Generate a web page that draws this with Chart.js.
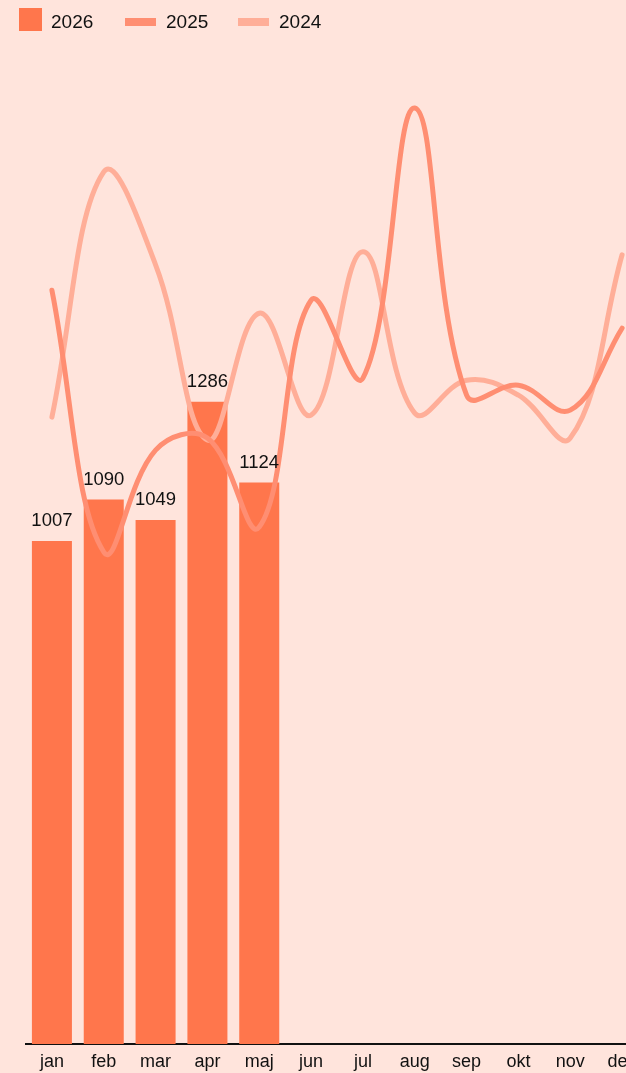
<!DOCTYPE html>
<html>
<head>
<meta charset="utf-8">
<script src="https://cdn.jsdelivr.net/npm/chart.js@4.4.1/dist/chart.umd.min.js"></script>
<style>
  html, body { margin: 0; padding: 0; background: #ffe4dc; overflow: hidden; }
  body { width: 626px; height: 1073px; position: relative; font-family: "Liberation Sans", Arial, sans-serif; }
  .legend { position: absolute; top: 0; left: 0; height: 40px; z-index: 2; }
  .legend span { position: absolute; font-size: 19px; color: #111; top: 11px; line-height: 22px; }
  .legend i { position: absolute; display: block; }
  .wrap { position: absolute; left: 0; top: 0; width: 674px; height: 1073px; }
</style>
</head>
<body>
<div class="legend">
  <i style="left:19px;top:8px;width:23px;height:23px;background:#ff764c"></i>
  <span style="left:51px">2026</span>
  <i style="left:125px;top:18px;width:31px;height:8px;background:#ff8e72"></i>
  <span style="left:166px">2025</span>
  <i style="left:238px;top:18px;width:31px;height:8px;background:#ffae98"></i>
  <span style="left:279px">2024</span>
</div>
<div class="wrap"><canvas id="c" width="674" height="1073"></canvas></div>
<script>
const months = ["jan", "feb", "mar", "apr", "maj", "jun", "jul", "aug", "sep", "okt", "nov", "dec"];
const sales2026 = [1007, 1090, 1049, 1286, 1124];
const sales2025 = [1509, 985, 1189, 1213, 1035, 1489, 1333, 1874, 1299, 1319, 1269, 1433];
const sales2024 = [1255, 1746, 1560, 1209, 1463, 1259, 1586, 1263, 1329, 1299, 1213, 1580];

// numbers above the bars
const barValues = {
  id: "barValues",
  afterDatasetsDraw(chart) {
    const { ctx } = chart;
    const meta = chart.getDatasetMeta(0);
    ctx.save();
    ctx.fillStyle = "#111";
    ctx.font = "18.5px 'Liberation Sans', Arial, sans-serif";
    ctx.textAlign = "center";
    ctx.textBaseline = "alphabetic";
    meta.data.forEach((bar, i) => {
      ctx.fillText(String(sales2026[i]), bar.x, bar.y - 15);
    });
    ctx.restore();
  }
};

new Chart(document.getElementById("c"), {
  data: {
    labels: months,
    datasets: [
      {
        type: "bar",
        label: "2026",
        data: sales2026,
        backgroundColor: "#ff764c",
        categoryPercentage: 1,
        barPercentage: 0.772,
        order: 3
      },
      {
        type: "line",
        label: "2025",
        data: sales2025,
        borderColor: "#ff8e72",
        borderWidth: 5,
        borderCapStyle: "round",
        tension: 0.4,
        pointRadius: 0,
        fill: false,
        order: 1
      },
      {
        type: "line",
        label: "2024",
        data: sales2024,
        borderColor: "#ffae98",
        borderWidth: 5,
        borderCapStyle: "round",
        tension: 0.4,
        pointRadius: 0,
        fill: false,
        order: 2
      }
    ]
  },
  options: {
    responsive: false,
    animation: false,
    layout: { padding: { top: 45, left: 26, right: 26, bottom: 0 } },
    plugins: {
      legend: { display: false },
      tooltip: { enabled: false }
    },
    scales: {
      x: {
        grid: { display: false, tickLength: 0 },
        border: { display: true, color: "#111", width: 2 },
        ticks: {
          color: "#111",
          padding: 7,
          maxRotation: 0,
          autoSkip: false,
          font: { family: "'Liberation Sans', Arial, sans-serif", size: 18 }
        },
        afterFit(scale) { scale.height = 29; }
      },
      y: {
        display: false,
        min: 0,
        max: 2000
      }
    }
  },
  plugins: [barValues]
});
</script>
</body>
</html>
